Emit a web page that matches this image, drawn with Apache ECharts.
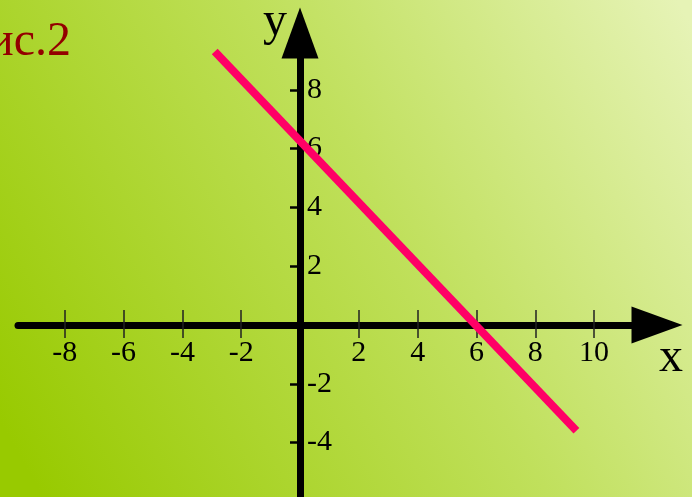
<!DOCTYPE html>
<html>
<head>
<meta charset="utf-8">
<script src="https://cdn.jsdelivr.net/npm/echarts@6/dist/echarts.min.js"></script>
<style>
html, body { margin: 0; padding: 0; }
#chart { width: 692px; height: 497px; }
</style>
</head>
<body>
<div id="chart"></div>
<script>
// линия на рис.2 (концы отрезка)
const lineX = [-2.9, 9.4];
const lineY = [9.3, -3.6];
// подписи делений
const xTicks = [-8, -6, -4, -2, 2, 4, 6, 8, 10];
const yTicks = [-4, -2, 2, 4, 6, 8];
const xRange = [-9.59, 12.14];
const yRange = [-5.85, 9.93];

const myChart = echarts.init(document.getElementById('chart'));

const serif = '"Liberation Serif", "DejaVu Serif", serif';
// оси проходят через ноль: сдвиг от краёв сетки
const xAxisOffset = -172;
const yAxisOffset = -282;

const option = {
    animation: false,
    backgroundColor: {
        type: 'linear',
        x: 0, y: 0.85, x2: 1, y2: 0.05,
        colorStops: [
            { offset: 0, color: '#98ca00' },
            { offset: 0.55, color: '#c0e05c' },
            { offset: 1, color: '#e6f3b6' }
        ]
    },
    grid: { left: 18, right: 35, top: 33, bottom: 0, outerBoundsMode: 'none', containLabel: false },
    xAxis: [
        {
            type: 'value',
            min: xRange[0],
            max: xRange[1],
            position: 'bottom',
            offset: xAxisOffset,
            axisLine: {
                onZero: false,
                symbol: ['none', 'triangle'],
                symbolSize: [37, 51],
                lineStyle: { color: '#000', width: 7 }
            },
            axisTick: {
                show: true,
                length: 13,
                customValues: xTicks,
                lineStyle: { color: '#222', width: 1.5 }
            },
            axisLabel: {
                customValues: xTicks,
                margin: 13,
                color: '#000',
                fontFamily: serif,
                fontSize: 30
            },
            splitLine: { show: false }
        },
        {
            // верхняя половина штрихов
            type: 'value',
            min: xRange[0],
            max: xRange[1],
            position: 'bottom',
            offset: xAxisOffset,
            axisLine: { show: false, onZero: false },
            axisTick: {
                show: true,
                inside: true,
                length: 15,
                customValues: xTicks,
                lineStyle: { color: '#222', width: 1.5 }
            },
            axisLabel: { show: false },
            splitLine: { show: false }
        }
    ],
    yAxis: {
        type: 'value',
        min: yRange[0],
        max: yRange[1],
        position: 'left',
        offset: yAxisOffset,
        axisLine: {
            onZero: false,
            symbol: ['none', 'triangle'],
            symbolSize: [37, 51],
            lineStyle: { color: '#000', width: 7 }
        },
        axisTick: {
            show: true,
            length: 10,
            customValues: yTicks,
            lineStyle: { color: '#000', width: 2.5 }
        },
        axisLabel: {
            inside: true,
            customValues: yTicks,
            margin: 7,
            color: '#000',
            fontFamily: serif,
            fontSize: 30
        },
        splitLine: { show: false }
    },
    graphic: [
        {
            type: 'text', x: -12, y: 42,
            style: { text: 'ис.2', fill: '#930000', font: '48px ' + serif, verticalAlign: 'middle' }
        },
        {
            type: 'text', x: 275, y: 22,
            style: { text: 'y', fill: '#000', font: '48px ' + serif, align: 'center', verticalAlign: 'middle' }
        },
        {
            type: 'text', x: 671, y: 358,
            style: { text: 'x', fill: '#000', font: '48px ' + serif, align: 'center', verticalAlign: 'middle' }
        }
    ],
    series: [
        {
            name: 'рис.2',
            type: 'line',
            data: lineX.map((x, i) => [x, lineY[i]]),
            symbol: 'none',
            lineStyle: { color: '#ff0066', width: 8 },
            z: 5
        }
    ]
};
myChart.setOption(option);
</script>
</body>
</html>
